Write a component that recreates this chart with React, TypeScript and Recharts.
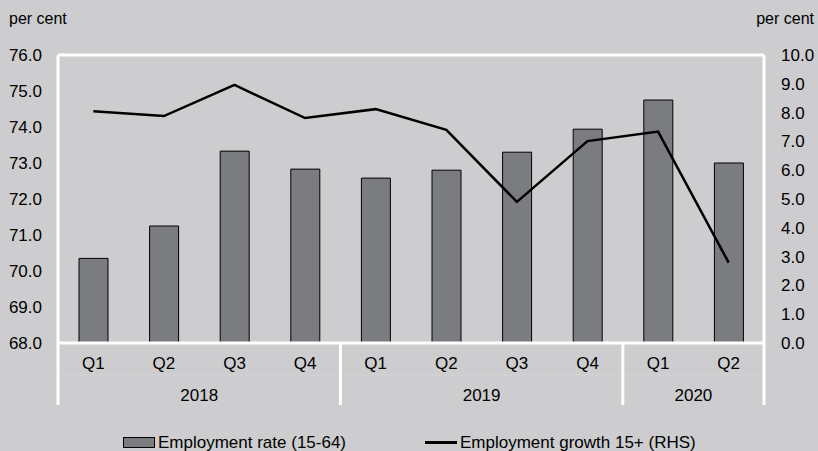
import { ComposedChart, Bar, Line, XAxis, YAxis, ReferenceLine } from 'recharts';

const QUARTERS = ['Q1', 'Q2', 'Q3', 'Q4', 'Q1', 'Q2', 'Q3', 'Q4', 'Q1', 'Q2'];
const YEARS = ['2018', '2018', '2018', '2018', '2019', '2019', '2019', '2019', '2020', '2020'];
const EMPLOYMENT_RATE = [70.35, 71.25, 73.33, 72.83, 72.58, 72.8, 73.3, 73.94, 74.75, 73.0];
const EMPLOYMENT_GROWTH = [8.05, 7.88, 8.96, 7.81, 8.12, 7.4, 4.9, 7.01, 7.34, 2.79];
const LEFT_TICKS = [68, 69, 70, 71, 72, 73, 74, 75, 76];
const RIGHT_TICKS = [0, 1, 2, 3, 4, 5, 6, 7, 8, 9, 10];

const W = 818;
const H = 451;
const LEFT_W = 58;
const RIGHT_W = 54;
const Q_AXIS_H = 40;
const YEAR_AXIS_H = 22;
const BG = '#cdcdcf';
const FONT = '"Liberation Sans", Arial, sans-serif';
const FS = 17;

const data = QUARTERS.map((q, i) => ({
  q,
  year: YEARS[i],
  rate: EMPLOYMENT_RATE[i],
  growth: EMPLOYMENT_GROWTH[i],
}));

const band = (W - LEFT_W - RIGHT_W) / data.length;

function YearTick(props: any) {
  const { x, y, index } = props;
  const i = index as number;
  const yr = YEARS[i];
  const start = i === 0 || YEARS[i - 1] !== yr;
  // group size and position to put the label in the middle of the group
  let first = i;
  while (first > 0 && YEARS[first - 1] === yr) first--;
  let n = 0;
  while (first + n < YEARS.length && YEARS[first + n] === yr) n++;
  const mid = first + Math.floor((n - 1) / 2);
  const labelX = n % 2 === 0 ? x + band / 2 : x;
  const top = y - Q_AXIS_H;
  const bottom = y + YEAR_AXIS_H;
  return (
    <g>
      <line x1={x - band / 2} x2={x + band / 2} y1={y - 8} y2={y - 8} stroke="#d2d2d4" strokeWidth={1} />
      {start && <line x1={x - band / 2} x2={x - band / 2} y1={top} y2={bottom} stroke="#fff" strokeWidth={3} />}
      {i === YEARS.length - 1 && (
        <line x1={x + band / 2} x2={x + band / 2} y1={top} y2={bottom} stroke="#fff" strokeWidth={3} />
      )}
      {i === mid && (
        <text x={labelX} y={y + 18} textAnchor="middle" fontSize={FS} fontFamily={FONT} fill="#000">
          {yr}
        </text>
      )}
    </g>
  );
}

const fmt = (v: number) => v.toFixed(1);

const legendRow = {
  position: 'absolute' as const,
  top: 434,
  display: 'flex',
  alignItems: 'center',
  fontSize: FS,
  lineHeight: '17px',
  color: '#000',
  whiteSpace: 'nowrap' as const,
};

export default function App() {
  return (
    <div style={{ position: 'absolute', left: 0, top: 0, width: W, height: H, background: BG, fontFamily: FONT, overflow: 'hidden' }}>
      <ComposedChart width={W} height={H} data={data} margin={{ top: 55, right: 0, bottom: 46, left: 0 }}>
        <XAxis
          xAxisId="q"
          dataKey="q"
          height={Q_AXIS_H}
          axisLine={{ stroke: '#fff', strokeWidth: 3 }}
          tickLine={false}
          tickMargin={8}
          interval={0}
          tick={{ fontSize: FS, fontFamily: FONT, fill: '#000' }}
        />
        <XAxis
          xAxisId="year"
          dataKey="year"
          height={YEAR_AXIS_H}
          axisLine={false}
          tickLine={false}
          tickSize={0}
          tickMargin={0}
          interval={0}
          tick={<YearTick />}
        />
        <YAxis
          yAxisId="left"
          orientation="left"
          width={LEFT_W}
          domain={[68, 76]}
          ticks={LEFT_TICKS}
          tickFormatter={fmt}
          axisLine={{ stroke: '#fff', strokeWidth: 3 }}
          tickLine={false}
          tickMargin={10}
          tick={{ fontSize: FS, fontFamily: FONT, fill: '#000' }}
          label={{
            content: ({ viewBox }: any) => (
              <text x={viewBox.x + 9} y={viewBox.y - 31} fontSize={FS - 1} fontFamily={FONT} fill="#000">
                per cent
              </text>
            ),
          }}
        />
        <YAxis
          yAxisId="right"
          orientation="right"
          width={RIGHT_W}
          domain={[0, 10]}
          ticks={RIGHT_TICKS}
          tickFormatter={fmt}
          axisLine={{ stroke: '#fff', strokeWidth: 3 }}
          tickLine={false}
          tickMargin={11}
          tick={{ fontSize: FS, fontFamily: FONT, fill: '#000' }}
          label={{
            content: ({ viewBox }: any) => (
              <text
                x={viewBox.x + viewBox.width - 4}
                y={viewBox.y - 31}
                textAnchor="end"
                fontSize={FS - 1}
                fontFamily={FONT}
                fill="#000"
              >
                per cent
              </text>
            ),
          }}
        />
        <ReferenceLine yAxisId="left" xAxisId="q" y={76} stroke="#fff" strokeWidth={3} />
        <Bar
          xAxisId="q"
          yAxisId="left"
          dataKey="rate"
          name="Employment rate (15-64)"
          barSize={29}
          fill="#7b7c80"
          stroke="#000"
          strokeWidth={1}
          isAnimationActive={false}
        />
        <Line
          xAxisId="q"
          yAxisId="right"
          dataKey="growth"
          name="Employment growth 15+ (RHS)"
          type="linear"
          stroke="#000"
          strokeWidth={2.5}
          dot={false}
          activeDot={false}
          isAnimationActive={false}
        />
      </ComposedChart>
      <div style={{ ...legendRow, left: 123 }}>
        <span style={{ display: 'inline-block', width: 30, height: 9, background: '#7b7c80', border: '1px solid #000', marginRight: 3 }} />
        <span>Employment rate (15-64)</span>
      </div>
      <div style={{ ...legendRow, left: 425 }}>
        <span style={{ display: 'inline-block', width: 32, height: 2.5, background: '#000', marginRight: 3 }} />
        <span>Employment growth 15+ (RHS)</span>
      </div>
    </div>
  );
}
